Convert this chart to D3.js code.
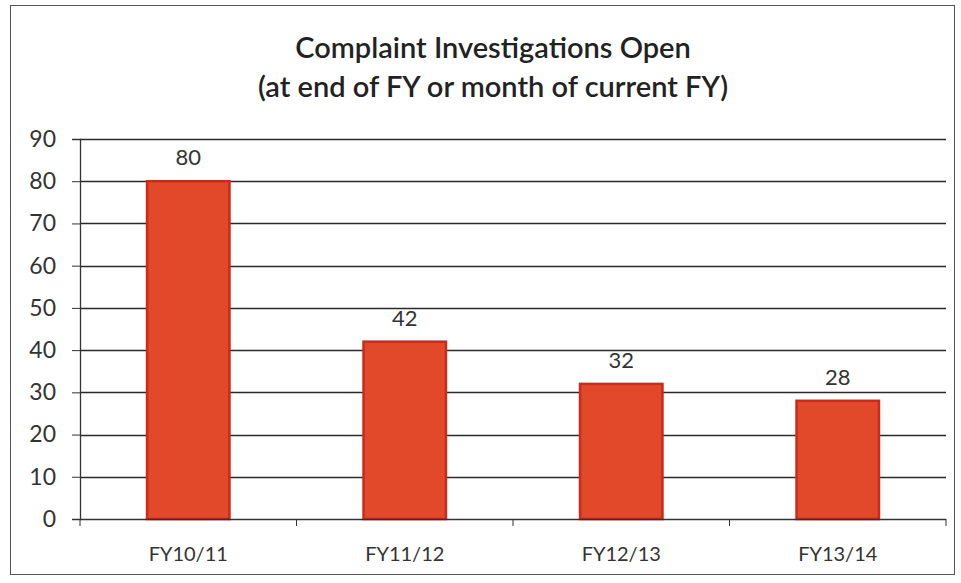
<!DOCTYPE html>
<html>
<head>
<meta charset="utf-8">
<script src="https://cdn.jsdelivr.net/npm/d3@7"></script>
<style>
    body { margin: 0; background: #fff; }
    svg { display: block; font-family: Lato, "Open Sans", sans-serif; }
</style>
</head>
<body>
<div class="container"></div>
<script>
var categories = ["FY10/11", "FY11/12", "FY12/13", "FY13/14"];
var openCounts = [80, 42, 32, 28];
var yTicks = [0, 10, 20, 30, 40, 50, 60, 70, 80, 90];
var titleLines = ["Complaint Investigations Open", "(at end of FY or month of current FY)"];

var WIDTH = 961, HEIGHT = 583;
var PLOT = { left: 80, right: 946, top: 139, bottom: 519 };

var svg = d3.select(".container")
    .append("svg")
    .attr("width", WIDTH)
    .attr("height", HEIGHT);

// chart frame
svg.append("rect")
    .attr("x", 10.5).attr("y", 5.5)
    .attr("width", 944).attr("height", 569)
    .attr("fill", "none")
    .attr("stroke", "#555")
    .attr("stroke-width", 1);

svg.selectAll(".title")
    .data(titleLines)
    .enter()
    .append("text")
    .attr("class", "title")
    .attr("x", 493)
    .attr("y", (d, i) => 58 + i * 39)
    .attr("text-anchor", "middle")
    .style("font-size", "29px")
    .style("font-weight", "600")
    .attr("fill", "#222")
    .text(d => d);

var x = d3.scaleBand()
    .domain(categories)
    .range([PLOT.left, PLOT.right])
    .paddingInner(0.61)
    .paddingOuter(0.305);

var y = d3.scaleLinear()
    .domain([0, 90])
    .range([PLOT.bottom, PLOT.top]);

// gridlines
svg.append("g")
    .selectAll("line")
    .data(yTicks.slice(1))
    .enter()
    .append("line")
    .attr("x1", PLOT.left).attr("x2", PLOT.right)
    .attr("y1", d => Math.round(y(d)) + 0.5)
    .attr("y2", d => Math.round(y(d)) + 0.5)
    .attr("stroke", "#2a2a2a")
    .attr("stroke-width", 1.3);

// y axis
var yAxis = svg.append("g")
    .attr("transform", `translate(${PLOT.left}, 0)`)
    .call(d3.axisLeft(y).tickValues(yTicks).tickSize(8).tickPadding(16));
yAxis.select(".domain").attr("stroke", "#333").attr("stroke-width", 1.3);
yAxis.selectAll(".tick line").attr("stroke", "#333");
yAxis.selectAll(".tick text")
    .style("font-size", "23px")
    .attr("fill", "#333")
    .style("font-family", "Lato, 'Open Sans', sans-serif");

// bars
svg.append("g")
    .selectAll("rect")
    .data(openCounts)
    .enter()
    .append("rect")
    .attr("x", (d, i) => x(categories[i]) + 1)
    .attr("y", d => y(d))
    .attr("width", x.bandwidth() - 2)
    .attr("height", d => y(0) - y(d))
    .attr("fill", "#E2482A")
    .attr("stroke", "#CC2A1A")
    .attr("stroke-width", 2.5);

// x axis with ticks between categories
var xAxis = svg.append("g")
    .attr("transform", `translate(0, ${PLOT.bottom})`);
xAxis.append("line")
    .attr("x1", PLOT.left).attr("x2", PLOT.right)
    .attr("y1", 0.5).attr("y2", 0.5)
    .attr("stroke", "#333").attr("stroke-width", 1.3);
xAxis.selectAll(".sep")
    .data(d3.range(categories.length + 1))
    .enter()
    .append("line")
    .attr("class", "sep")
    .attr("x1", i => PLOT.left + i * x.step())
    .attr("x2", i => PLOT.left + i * x.step())
    .attr("y1", 0).attr("y2", 7)
    .attr("stroke", "#333");
xAxis.selectAll(".cat")
    .data(categories)
    .enter()
    .append("text")
    .attr("class", "cat")
    .attr("x", d => x(d) + x.bandwidth() / 2)
    .attr("y", 42)
    .attr("text-anchor", "middle")
    .style("font-size", "20px")
    .attr("fill", "#333")
    .text(d => d);

// value labels
svg.append("g")
    .selectAll("text")
    .data(openCounts)
    .enter()
    .append("text")
    .attr("x", (d, i) => x(categories[i]) + x.bandwidth() / 2)
    .attr("y", d => y(d) - 16)
    .attr("text-anchor", "middle")
    .style("font-size", "22px")
    .attr("fill", "#333")
    .text(d => d);
</script>
</body>
</html>
